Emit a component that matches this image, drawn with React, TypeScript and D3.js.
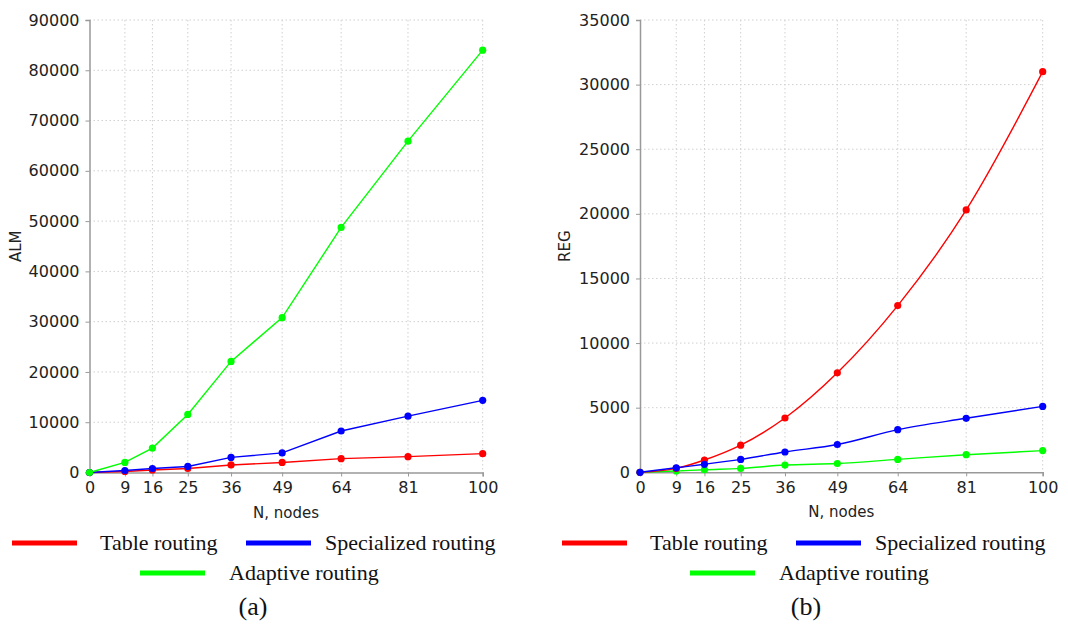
import { useEffect, useRef } from "react";
import * as d3 from "d3";

// N, nodes (x axis ticks)
const nodes = [0, 9, 16, 25, 36, 49, 64, 81, 100];

// (a) ALM
const almTable = [0, 200, 500, 800, 1500, 2000, 2750, 3150, 3750];
const almSpecialized = [0, 400, 800, 1200, 3000, 3900, 8250, 11200, 14350];
const almAdaptive = [0, 2000, 4850, 11550, 22100, 30800, 48750, 65900, 84000];
const almTicks = [0, 10000, 20000, 30000, 40000, 50000, 60000, 70000, 80000, 90000];

// (b) REG
const regTable = [0, 300, 950, 2100, 4200, 7700, 12900, 20300, 31000];
const regSpecialized = [0, 350, 620, 1000, 1570, 2150, 3300, 4180, 5100];
const regAdaptive = [0, 100, 200, 300, 560, 680, 1000, 1360, 1680];
const regTicks = [0, 5000, 10000, 15000, 20000, 25000, 30000, 35000];

const legendNames = ["Table routing", "Specialized routing", "Adaptive routing"];
const RED = "#ff0000";
const BLUE = "#0000ff";
const GREEN = "#00ff00";

function drawPanel(svg, opts) {
  const { x0, x1, yTop, yBottom, ticks, yLabel, yLabelX, series, caption, captionX, legendX, curve } = opts;
  const g = svg.append("g");

  const x = d3.scaleLinear().domain([0, 100]).range([x0, x1]);
  const y = d3.scaleLinear().domain([0, ticks[ticks.length - 1]]).range([yBottom, yTop]);

  // dotted grid
  g.selectAll(".gx")
    .data(nodes.slice(1))
    .join("line")
    .attr("x1", (d) => x(d))
    .attr("x2", (d) => x(d))
    .attr("y1", yTop)
    .attr("y2", yBottom)
    .attr("stroke", "#d0d0d0")
    .attr("stroke-dasharray", "1.5,2.5");
  g.selectAll(".gy")
    .data(ticks.slice(1))
    .join("line")
    .attr("x1", x0)
    .attr("x2", x1)
    .attr("y1", (d) => y(d))
    .attr("y2", (d) => y(d))
    .attr("stroke", "#d0d0d0")
    .attr("stroke-dasharray", "1.5,2.5");

  // axes
  const yAxis = d3.axisLeft(y).tickValues(ticks).tickSize(4).tickPadding(6).tickFormat(d3.format("d"));
  const xAxis = d3.axisBottom(x).tickValues(nodes).tickSize(4).tickPadding(5).tickFormat(d3.format("d"));
  const ya = g.append("g").attr("transform", `translate(${x0},0)`).call(yAxis);
  const xa = g.append("g").attr("transform", `translate(0,${yBottom})`).call(xAxis);
  [ya, xa].forEach((a) => {
    a.select(".domain").attr("stroke", "#999").attr("stroke-width", 1.5);
    a.selectAll(".tick line").attr("stroke", "#999");
    a.selectAll(".tick text")
      .attr("fill", "#222")
      .style("font-family", "DejaVu Sans, sans-serif")
      .style("font-size", "16px");
  });

  g.append("text")
    .attr("transform", `translate(${yLabelX},${(yTop + yBottom) / 2}) rotate(-90)`)
    .attr("text-anchor", "middle")
    .style("font-family", "DejaVu Sans, sans-serif")
    .style("font-size", "15px")
    .attr("fill", "#222")
    .text(yLabel);
  g.append("text")
    .attr("x", (x0 + x1) / 2)
    .attr("y", yBottom + 45)
    .attr("text-anchor", "middle")
    .style("font-family", "DejaVu Sans, sans-serif")
    .style("font-size", "15px")
    .attr("fill", "#222")
    .text("N, nodes");

  const line = d3
    .line()
    .x((d, i) => x(nodes[i]))
    .y((d) => y(d))
    .curve(curve);

  series.forEach((s) => {
    g.append("path")
      .attr("d", line(s.values))
      .attr("fill", "none")
      .attr("stroke", s.color)
      .attr("stroke-width", 1.4);
    g.selectAll(null)
      .data(s.values)
      .join("circle")
      .attr("cx", (d, i) => x(nodes[i]))
      .attr("cy", (d) => y(d))
      .attr("r", 3.6)
      .attr("fill", s.color);
  });

  // legend
  const lg = g.append("g").style("font-family", "Liberation Serif, Times New Roman, serif").style("font-size", "22px");
  const items = [
    { name: legendNames[0], color: RED, lx: legendX, ly: 543, gap: 23 },
    { name: legendNames[1], color: BLUE, lx: legendX + 234, ly: 543, gap: 14 },
    { name: legendNames[2], color: GREEN, lx: legendX + 128, ly: 573, gap: 24 },
  ];
  items.forEach((it) => {
    lg.append("line")
      .attr("x1", it.lx)
      .attr("x2", it.lx + 65)
      .attr("y1", it.ly)
      .attr("y2", it.ly)
      .attr("stroke", it.color)
      .attr("stroke-width", 5);
    lg.append("text")
      .attr("x", it.lx + 65 + it.gap)
      .attr("y", it.ly + 7)
      .attr("fill", "#111")
      .text(it.name);
  });

  g.append("text")
    .attr("x", captionX)
    .attr("y", 615)
    .attr("text-anchor", "middle")
    .style("font-family", "Liberation Serif, Times New Roman, serif")
    .style("font-size", "26px")
    .attr("fill", "#111")
    .text(caption);
}

export default function App() {
  const svgRef = useRef(null);

  useEffect(() => {
    const svg = d3.select(svgRef.current);
    svg.selectAll("*").remove();

    drawPanel(svg, {
      x0: 89.5,
      x1: 482.7,
      yTop: 20,
      yBottom: 472.5,
      ticks: almTicks,
      yLabel: "ALM",
      yLabelX: 21,
      caption: "(a)",
      captionX: 253,
      legendX: 12,
      curve: d3.curveLinear,
      series: [
        { values: almTable, color: RED },
        { values: almSpecialized, color: BLUE },
        { values: almAdaptive, color: GREEN },
      ],
    });

    drawPanel(svg, {
      x0: 640,
      x1: 1042.7,
      yTop: 20,
      yBottom: 472.3,
      ticks: regTicks,
      yLabel: "REG",
      yLabelX: 570,
      caption: "(b)",
      captionX: 806,
      legendX: 562,
      curve: d3.curveMonotoneX,
      series: [
        { values: regAdaptive, color: GREEN },
        { values: regTable, color: RED },
        { values: regSpecialized, color: BLUE },
      ],
    });
  }, []);

  return (
    <svg
      ref={svgRef}
      width={1068}
      height={624}
      style={{ position: "absolute", left: 0, top: 0, background: "#fff" }}
    />
  );
}
